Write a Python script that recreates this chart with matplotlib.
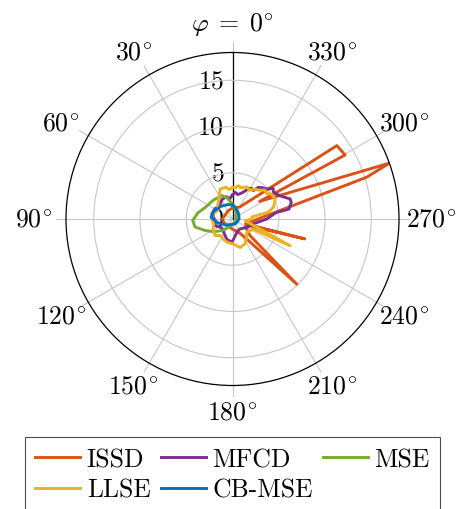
import numpy as np
import matplotlib
matplotlib.use("Agg")
import matplotlib.pyplot as plt

plt.rcParams['mathtext.fontset'] = 'cm'
plt.rcParams['font.family'] = ['cmr10', 'DejaVu Serif']
plt.rcParams['font.size'] = 18.5
plt.rcParams['axes.unicode_minus'] = False

# angles in degrees (0 at top, counter-clockwise), radius values
issd_phi = [0, 30, 60, 90, 120, 150, 180, 205, 214, 224.6, 226.5, 240, 248, 254.6, 250,
            287.3, 289.6, 303, 299.6, 305.1, 329, 345, 360]
issd_r = [1.2, 1.0, 0.9, 1.1, 1.0, 0.9, 1.1, 1.6, 2.4, 9.9, 2.6, 1.6, 2.0, 8.1, 1.5,
          15.2, 18.0, 3.5, 14.0, 13.8, 1.5, 1.3, 1.2]

mfcd_phi = [0, 8, 15, 28, 45, 60, 76, 95, 110, 130, 150, 165, 179, 190, 205, 217, 240, 255,
            270, 278.6, 279.3, 280, 285.8, 289.2, 296.1, 303.2, 307, 311.3, 316, 320.9, 324,
            328, 332.2, 340, 348, 354, 360]
mfcd_r = [2.6, 2.2, 2.5, 2.4, 2.0, 2.2, 2.3, 1.9, 2.0, 1.5, 1.8, 2.3, 2.5, 1.8, 1.4, 1.35, 1.8, 2.2,
          3.7, 4.8, 5.6, 6.2, 6.6, 6.6, 5.7, 5.3, 5.5, 4.9, 4.7, 4.4, 3.8, 3.9, 3.7, 3.0, 2.7, 2.9, 2.6]

mse_phi = [0, 15, 25, 45, 67, 80, 92, 102, 113, 125, 137, 155, 180, 230, 280, 330, 360]
mse_r = [1.6, 2.4, 2.8, 2.9, 3.2, 3.8, 4.3, 4.15, 3.2, 2.4, 1.7, 1.0, 0.6, 0.4, 0.4, 0.8, 1.6]

llse_phi = [0, 6, 12, 22, 30, 40, 55, 63, 75, 90, 105, 117, 133, 145, 155, 168, 182, 195, 207,
            215, 227, 237, 244, 245.1, 262, 270, 276, 280.6, 286, 295, 302.5, 307, 311.7, 318,
            323, 330, 335, 338.7, 345, 350, 355, 360]
llse_r = [3.4, 3.2, 3.5, 3.5, 2.9, 2.4, 2.0, 1.9, 2.2, 2.25, 2.1, 2.35, 2.6, 2.2, 2.4, 2.6, 2.7,
          3.2, 3.0, 2.6, 2.1, 2.3, 2.5, 6.85, 1.4, 2.1, 2.1, 3.9, 4.6, 5.1, 5.0, 4.6, 4.7, 4.2,
          4.05, 3.6, 3.8, 3.7, 3.5, 3.65, 3.4, 3.4]

cbmse_phi = [0, 16, 40, 66.6, 84.7, 105, 132.7, 170, 205, 240, 270, 300, 322, 353, 360]
cbmse_r = [1.5, 1.63, 1.83, 2.18, 2.33, 1.63, 0.96, 0.6, 0.6, 0.6, 0.7, 0.8, 0.96, 1.41, 1.5]

series = [
    ('ISSD', issd_phi, issd_r, '#D95319'),
    ('MFCD', mfcd_phi, mfcd_r, '#7E2F8E'),
    ('MSE', mse_phi, mse_r, '#77AC30'),
    ('LLSE', llse_phi, llse_r, '#EDB120'),
    ('CB-MSE', cbmse_phi, cbmse_r, '#0072BD'),
]

theta_ticks = list(range(0, 360, 30))
theta_labels = [r'$\varphi\;=\;0^{\!\circ}$'] + [r'$%d^{\!\circ}$' % a for a in theta_ticks[1:]]
r_ticks = [0, 5, 10, 15]
rmax = 18

fig = plt.figure(figsize=(4.65, 5.1), dpi=100)
ax = fig.add_axes([66 / 465, 1 - 386.5 / 510, 333 / 465, 333 / 510], projection='polar')
ax.set_theta_zero_location('N')
ax.set_theta_direction(1)

# spokes (extend a bit past the outer circle)
for a in theta_ticks:
    ax.plot([np.radians(a)] * 2, [0, rmax * 1.062], color='0.78', lw=0.8,
            clip_on=False, zorder=0.5)
ax.plot([0, 0], [0, rmax], color='k', lw=0.9, zorder=1.5)

lines = {}
for name, phi, r, c in series:
    ln, = ax.plot(np.radians(phi), r, color=c, lw=2.1, label=name)
    lines[name] = ln

ax.set_ylim(0, rmax)
ax.set_xticks([])
ax.set_yticks([5, 10, 15])
ax.set_yticklabels([])
ax.tick_params(axis='y', length=0)
ax.yaxis.grid(True, color='0.78', lw=0.8)
ax.spines['polar'].set_linewidth(0.9)

for v in r_ticks:
    ax.annotate('$%d$' % v, xy=(0, v), xytext=(-6, 0), textcoords='offset points',
                ha='right', va='center', zorder=1)

for a, lab in zip(theta_ticks, theta_labels):
    t = np.radians(a)
    ux, uy = -np.sin(t), np.cos(t)
    oy = 13.5 if a == 0 else 11.5
    ax.annotate(lab, xy=(t, rmax * 1.062), xytext=(ux * 15.5, uy * oy),
                textcoords='offset points', ha='center', va='center',
                annotation_clip=False)

order = ['ISSD', 'LLSE', 'MFCD', 'CB-MSE', 'MSE']
leg = fig.legend([lines[k] for k in order], order, loc='upper center',
                 bbox_to_anchor=(0.5, 1 - 438 / 510), ncol=3, fancybox=False,
                 edgecolor='0.3', framealpha=1, handlelength=1.75, handletextpad=0.25,
                 columnspacing=0.4, labelspacing=0.28, borderpad=0.4, borderaxespad=0)
leg.get_frame().set_linewidth(0.8)

fig.savefig('out.png', dpi=100)
